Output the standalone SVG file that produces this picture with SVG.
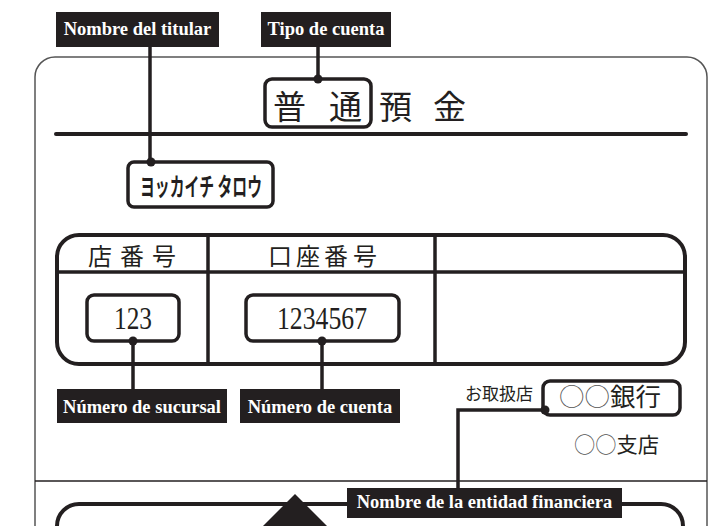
<svg xmlns="http://www.w3.org/2000/svg" width="712" height="526" viewBox="0 0 712 526">
<style>
.card{fill:none;stroke:#555;stroke-width:1.5}
.thick{fill:none;stroke:#231f20;stroke-width:4;stroke-linecap:round}
.box{fill:#fff;stroke:#231f20;stroke-width:3.5}
.lbl{fill:#231f20}
.lt{fill:#fff;font-family:"Liberation Serif",serif;font-weight:bold;font-size:18.5px;text-anchor:middle}
.jp{font-family:"Noto Sans CJK JP",sans-serif;fill:#231f20}
.num{font-family:"Liberation Serif",serif;fill:#231f20;font-size:31px}
.con{fill:none;stroke:#231f20;stroke-width:3.5}
.dot{fill:#231f20}
</style>
<rect width="712" height="526" fill="#fff"/>
<g id="card">
<path class="card" d="M35,546 V77 A20,20 0 0 1 55,57 H687 A20,20 0 0 1 707,77 V546"/>
<line x1="56" y1="134" x2="686" y2="134" class="thick"/>
<line x1="35" y1="481" x2="707" y2="481" stroke="#231f20" stroke-width="1.5"/>
</g>
<g id="title">
<rect class="box" x="265" y="79" width="106" height="48" rx="7"/>
<text class="jp" font-size="33" x="273 329 379 433" y="119">普通預金</text>
</g>
<g id="holder-name">
<rect class="box" x="128" y="162" width="145" height="45" rx="6"/>
<text class="jp" font-size="25" font-weight="bold" x="140" y="196" textLength="122" lengthAdjust="spacingAndGlyphs">ヨッカイチ タロウ</text>
</g>
<g id="table">
<rect x="57" y="235" width="628" height="129" rx="22" fill="none" stroke="#231f20" stroke-width="4"/>
<line x1="57" y1="272" x2="685" y2="272" stroke="#231f20" stroke-width="3.5"/>
<line x1="208" y1="235" x2="208" y2="364" stroke="#231f20" stroke-width="3.5"/>
<line x1="435" y1="235" x2="435" y2="364" stroke="#231f20" stroke-width="3.5"/>
<text class="jp" font-size="24" x="88 120 152" y="265">店番号</text>
<text class="jp" font-size="24" x="268 296 324 353" y="265">口座番号</text>
</g>
<g id="branch-number">
<rect class="box" x="87" y="295" width="92" height="46" rx="7"/>
<text class="num" x="114" y="329" textLength="38" lengthAdjust="spacingAndGlyphs">123</text>
</g>
<g id="account-number">
<rect class="box" x="246" y="295" width="153" height="46" rx="7"/>
<text class="num" x="277" y="329" textLength="90" lengthAdjust="spacingAndGlyphs">1234567</text>
</g>
<g id="bank">
<text class="jp" font-size="17" x="465" y="400">お取扱店</text>
<rect class="box" x="543" y="381" width="137" height="34" rx="7"/>
<text class="jp" font-size="25" x="559" y="406" textLength="102" lengthAdjust="spacingAndGlyphs"><tspan fill="#555" font-weight="300">○○</tspan>銀行</text>
<text class="jp" font-size="21" x="574" y="452" textLength="85" lengthAdjust="spacingAndGlyphs"><tspan fill="#555" font-weight="300">○○</tspan>支店</text>
</g>
<g id="lower-box">
<path class="thick" d="M57,540 V526 A22,22 0 0 1 79,504 H661 A22,22 0 0 1 683,526 V540"/>
<polygon points="295,494 253,536 337,536" fill="#231f20"/>
</g>
<g id="connectors">
<path class="con" d="M150,47 V162"/>
<circle class="dot" cx="151" cy="162" r="4.5"/>
<path class="con" d="M318,47 V79"/>
<circle class="dot" cx="318" cy="79" r="4.5"/>
<path class="con" d="M133,341 V389"/>
<circle class="dot" cx="133" cy="341" r="4.5"/>
<path class="con" d="M322,341 V389"/>
<circle class="dot" cx="322" cy="341" r="4.5"/>
<path class="con" d="M545,410 H458 V488"/>
<circle class="dot" cx="545" cy="410" r="4.5"/>
</g>
<g id="label-holder">
<rect class="lbl" x="56" y="12" width="163" height="35"/>
<text class="lt" x="137.5" y="35">Nombre del titular</text>
</g>
<g id="label-type">
<rect class="lbl" x="261" y="12" width="130" height="35"/>
<text class="lt" x="326" y="35">Tipo de cuenta</text>
</g>
<g id="label-branch">
<rect class="lbl" x="57" y="389" width="170" height="34"/>
<text class="lt" x="142" y="413">Número de sucursal</text>
</g>
<g id="label-account">
<rect class="lbl" x="240" y="389" width="160" height="34"/>
<text class="lt" x="320" y="413">Número de cuenta</text>
</g>
<g id="label-bank">
<rect class="lbl" x="347" y="488" width="275" height="30"/>
<text class="lt" x="484.5" y="508">Nombre de la entidad financiera</text>
</g>
</svg>
